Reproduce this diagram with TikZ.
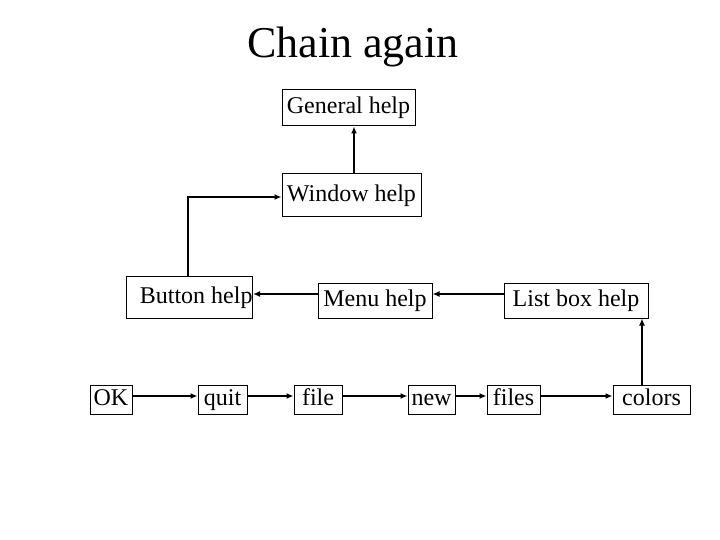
\documentclass[tikz,border=0pt]{standalone}
\usepackage{fontspec}
\setmainfont{Liberation Serif}
\usepackage{tikz}
\usetikzlibrary{arrows.meta,positioning}

\tikzset{
	helpbox/.style={draw, line width=1pt, inner sep=0pt, text height=17pt, text depth=5pt, font=\fontsize{24}{26}\selectfont},
	link/.style={-{Latex[length=7pt,width=6pt]}, line width=2pt}
}

\begin{document}
\begin{tikzpicture}[x=1pt,y=-1pt]
	\useasboundingbox (0,0) rectangle (720,540);
	\node (T) [anchor=base, font=\fontsize{44}{48}\selectfont] at (353,58) {Chain again};

	\node (G) [helpbox, minimum width=133, minimum height=36] at (348.5,108) {General help};
	\node (W) [helpbox, minimum width=139, minimum height=43] at (351.5,195.5) {Window help};
	\node (B) [helpbox, text width=126, align=flush right, minimum height=42] at (189.5,297) {Button help};
	\node (M) [helpbox, minimum width=114, minimum height=35] at (375,300.5) {Menu help};
	\node (L) [helpbox, minimum width=144, minimum height=35] at (576,300.5) {List box help};

	\node (ok) [helpbox, minimum width=42, minimum height=29] at (111,399.5) {OK};
	\node (quit) [helpbox, minimum width=49, minimum height=29] at (222.5,399.5) {quit};
	\node (file) [helpbox, minimum width=48, minimum height=29] at (318,399.5) {file};
	\node (new) [helpbox, minimum width=47, minimum height=29] at (431.5,399.5) {new};
	\node (files) [helpbox, minimum width=53, minimum height=29] at (513.5,399.5) {files};
	\node (colors) [helpbox, minimum width=77, minimum height=29] at (651.5,399.5) {colors};

	\draw [link] ([xshift=2.5pt]W.north) to ([xshift=2.5pt]W.north |- G.south);
	\draw [link] ([xshift=-2pt]B.north) |- ([yshift=-1.5pt]W.west);
	\draw [link] ([yshift=6.5pt]M.west) to ([yshift=6.5pt]M.west -| B.east);
	\draw [link] ([yshift=6.5pt]L.west) to ([yshift=6.5pt]L.west -| M.east);
	\draw [link] ([yshift=3.5pt]ok.east) to ([yshift=3.5pt]quit.west);
	\draw [link] ([yshift=3.5pt]quit.east) to ([yshift=3.5pt]file.west);
	\draw [link] ([yshift=3.5pt]file.east) to ([yshift=3.5pt]new.west);
	\draw [link] ([yshift=3.5pt]new.east) to ([yshift=3.5pt]files.west);
	\draw [link] ([yshift=3.5pt]files.east) to ([yshift=3.5pt]colors.west);
	\draw [link] ([xshift=-9.5pt]colors.north) to ([xshift=-9.5pt]colors.north |- L.south);

\end{tikzpicture}
\end{document}
